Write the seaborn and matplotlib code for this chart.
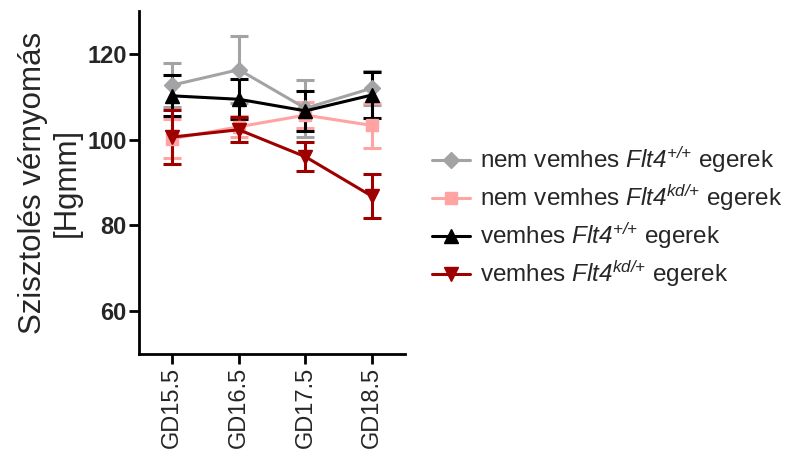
import numpy as np
import seaborn as sns
import matplotlib.pyplot as plt

# Mean systolic blood pressure (Hgmm) with SEM
days = ['GD15.5', 'GD16.5', 'GD17.5', 'GD18.5']

np_wt_mean = [112.7, 116.3, 107.3, 112.0]
np_wt_sem = [5.2, 7.8, 6.7, 4.0]

np_kd_mean = [100.2, 103.0, 105.7, 103.3]
np_kd_sem = [4.5, 2.5, 3.0, 5.3]

p_wt_mean = [110.2, 109.4, 106.7, 110.4]
p_wt_sem = [4.8, 4.7, 4.7, 5.3]

p_kd_mean = [100.6, 102.3, 96.0, 86.8]
p_kd_sem = [6.2, 2.9, 3.4, 5.1]

labels = [r'nem vemhes $\mathit{Flt4}^{\text{+/+}}$ egerek',
          r'nem vemhes $\mathit{Flt4}^{\text{kd/+}}$ egerek',
          r'vemhes $\mathit{Flt4}^{\text{+/+}}$ egerek',
          r'vemhes $\mathit{Flt4}^{\text{kd/+}}$ egerek']
colors = ['#a3a3a6', '#ffa3a3', '#000000', '#9e0000']
markers = ['D', 's', '^', 'v']
msizes = [8, 8, 10, 10]

sns.set_style('ticks')
plt.rcParams['font.family'] = ['Liberation Sans', 'DejaVu Sans']
plt.rcParams['mathtext.fontset'] = 'custom'
# the gene name is italic throughout, digits included
plt.rcParams['mathtext.rm'] = 'Liberation Sans:italic'
plt.rcParams['mathtext.it'] = 'Liberation Sans:italic'

fig = plt.figure(figsize=(7.9, 4.54), dpi=100)
ax = fig.add_axes([0.176, 0.220, 0.337, 0.756])

x = np.arange(len(days))
series = [(np_wt_mean, np_wt_sem), (np_kd_mean, np_kd_sem),
          (p_wt_mean, p_wt_sem), (p_kd_mean, p_kd_sem)]
handles = []
for (m, s), lab, c, mk, ms in zip(series, labels, colors, markers, msizes):
    cont = ax.errorbar(x, m, yerr=s, color=c, marker=mk, markersize=ms,
                       linewidth=2.2, elinewidth=2.2, capsize=6.5, capthick=2.2, label=lab)
    handles.append(cont[0])

ax.set_xlim(-0.5, 3.5)
ax.set_ylim(50, 130)
ax.set_yticks([60, 80, 100, 120])
ax.set_xticks(x)
ax.set_xticklabels(days, rotation=90, fontsize=17)
for t in ax.get_yticklabels():
    t.set_fontweight('bold')
    t.set_fontsize(17)
ax.tick_params(width=2, length=7, pad=2, color='black')
for sp in ['left', 'bottom']:
    ax.spines[sp].set_linewidth(2)
    ax.spines[sp].set_color('black')
sns.despine(ax=ax)

ax.set_ylabel('Szisztolés vérnyomás\n[Hgmm]', fontsize=22.5, linespacing=1.15, labelpad=4)

leg = ax.legend(handles, labels, loc='center left', bbox_to_anchor=(1.02, 0.40),
                frameon=False, fontsize=17.5, handlelength=1.55, handletextpad=0.4,
                labelspacing=0.3)

plt.savefig('out.png', dpi=100)
